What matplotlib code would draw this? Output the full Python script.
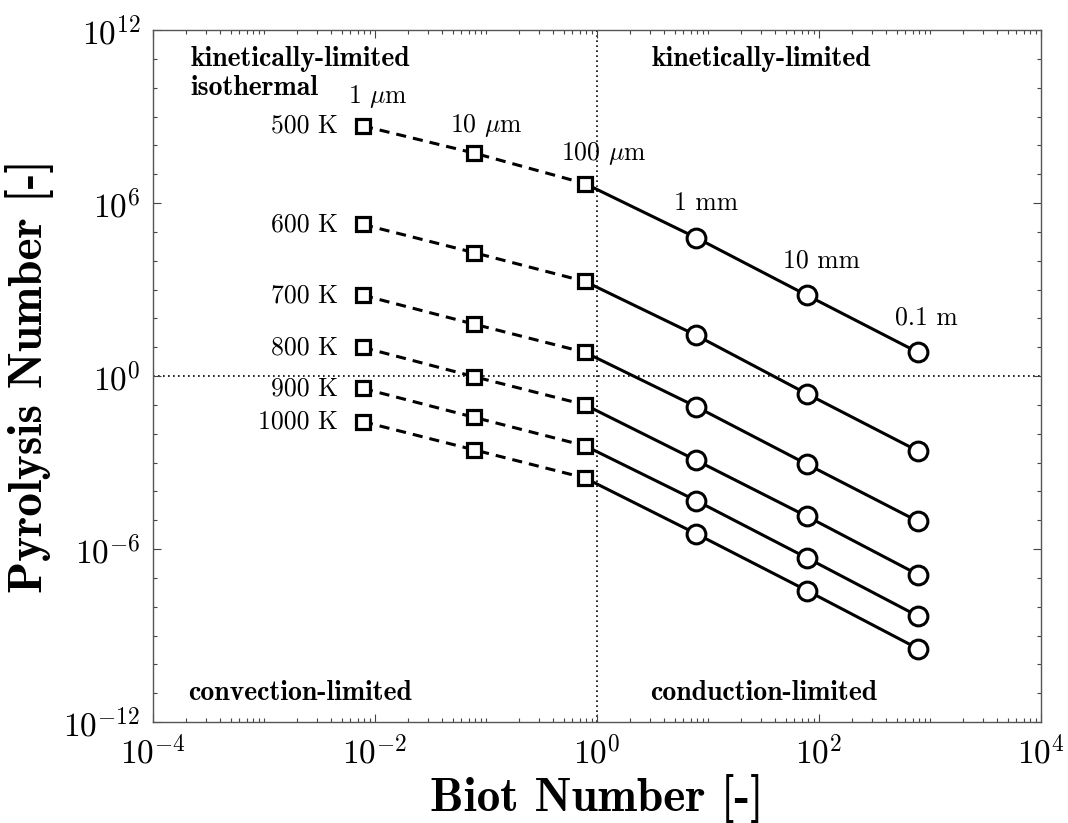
import math
import matplotlib
matplotlib.use("Agg")
import matplotlib.pyplot as plt
from matplotlib.ticker import FixedLocator, FuncFormatter, NullFormatter

plt.rcParams['mathtext.fontset'] = 'cm'
plt.rcParams['font.family'] = ['cmr10', 'DejaVu Serif']
plt.rcParams['axes.unicode_minus'] = False

# ---- data ----
biot = [0.0078, 0.078, 0.78, 7.8, 78, 780]
size_labels = [r'1 $\mu$m', r'10 $\mu$m', r'100 $\mu$m', '1 mm', '10 mm', '0.1 m']
temps = ['500 K', '600 K', '700 K', '800 K', '900 K', '1000 K']
pyro_500 = [4.7e8, 5.4e7, 4.7e6, 6.3e4, 6.3e2, 6.6e0]
pyro_600 = [1.8e5, 1.9e4, 1.9e3, 2.6e1, 2.4e-1, 2.5e-3]
pyro_700 = [6.3e2, 6.3e1, 6.6e0, 8.7e-2, 8.7e-4, 9.1e-6]
pyro_800 = [9.8e0, 9.5e-1, 1.0e-1, 1.2e-3, 1.35e-5, 1.3e-7]
pyro_900 = [3.7e-1, 3.7e-2, 3.8e-3, 4.8e-5, 4.9e-7, 4.7e-9]
pyro_1000 = [2.6e-2, 2.75e-3, 2.9e-4, 3.4e-6, 3.6e-8, 3.5e-10]
series = [pyro_500, pyro_600, pyro_700, pyro_800, pyro_900, pyro_1000]
x_tick_exps = [-4, -2, 0, 2, 4]
y_tick_exps = [-12, -6, 0, 6, 12]

fig = plt.figure(figsize=(10.68, 8.23), dpi=100)
ax = fig.add_axes([153/1068, 1-722/823, (1041-153)/1068, (722-30)/823])
ax.set_xscale('log')
ax.set_yscale('log')
ax.set_xlim(1e-4, 1e4)
ax.set_ylim(1e-12, 1e12)

ax.axvline(1, color='black', ls=(0, (1, 2)), lw=1.2, zorder=1)
ax.axhline(1, color='black', ls=(0, (1, 2)), lw=1.2, zorder=1)

lw = 2.2
for ys in series:
    ax.plot(biot[:3], ys[:3], color='black', lw=lw, ls=(0, (3.3, 2.3)), zorder=2)
    ax.plot(biot[2:], ys[2:], color='black', lw=lw, ls='-', zorder=2)
    ax.plot(biot[:3], ys[:3], ls='none', marker='s', ms=10, mfc='white',
            mec='black', mew=2.3, zorder=3)
    ax.plot(biot[3:], ys[3:], ls='none', marker='o', ms=13.5, mfc='white',
            mec='black', mew=2.2, zorder=3)

# temperature labels
for t, ys in zip(temps, series):
    ax.annotate(t, xy=(biot[0], ys[0]), xytext=(-18, 0), textcoords='offset points',
                ha='right', va='center', fontsize=18.5)

# size labels (above 500 K series)
offs = [(10.5, 21), (8.5, 20), (13.5, 21.5), (7, 25), (10.5, 25), (6, 25)]
for lab, xv, yv, o in zip(size_labels, biot, pyro_500, offs):
    ax.annotate(lab, xy=(xv, yv), xytext=o, textcoords='offset points',
                ha='center', va='center', fontsize=18.5)

bold = dict(family=['cmb10', 'DejaVu Serif'], fontsize=20)
ax.text(0.042, 0.977, 'kinetically-limited', transform=ax.transAxes,
        ha='left', va='top', **bold)
ax.text(0.042, 0.935, 'isothermal', transform=ax.transAxes,
        ha='left', va='top', **bold)
ax.text(0.561, 0.977, 'kinetically-limited', transform=ax.transAxes,
        ha='left', va='top', **bold)
ax.text(0.040, 0.042, 'convection-limited', transform=ax.transAxes,
        ha='left', va='center', **bold)
ax.text(0.560, 0.042, 'conduction-limited', transform=ax.transAxes,
        ha='left', va='center', **bold)

# ticks
ax.xaxis.set_major_locator(FixedLocator([10.0**e for e in x_tick_exps]))
xminor = []
for d in range(-4, 4):
    for s in range(1, 10):
        v = s * 10.0**d
        if not (s == 1 and d in x_tick_exps):
            xminor.append(v)
ax.xaxis.set_minor_locator(FixedLocator(xminor))
ax.yaxis.set_major_locator(FixedLocator([10.0**e for e in y_tick_exps]))
ax.yaxis.set_minor_locator(FixedLocator([10.0**d for d in range(-12, 13) if d not in y_tick_exps]))
fmt = FuncFormatter(lambda v, p: r'$10^{%d}$' % round(math.log10(v)))
ax.xaxis.set_major_formatter(fmt)
ax.yaxis.set_major_formatter(fmt)
ax.xaxis.set_minor_formatter(NullFormatter())
ax.yaxis.set_minor_formatter(NullFormatter())
ax.tick_params(which='both', direction='in', top=True, right=True, color='#444444', width=0.8)
ax.tick_params(which='major', length=5.5, labelsize=24, pad=9)
ax.tick_params(which='minor', length=3)
for sp in ax.spines.values():
    sp.set_color('#555555')
    sp.set_linewidth(1.0)

ax.set_xlabel('Biot Number [-]', family=['cmb10', 'DejaVu Serif'], fontsize=34, labelpad=3)
ax.set_ylabel('Pyrolysis Number [-]', family=['cmb10', 'DejaVu Serif'], fontsize=34, labelpad=7)

fig.savefig('out.png', dpi=100)
